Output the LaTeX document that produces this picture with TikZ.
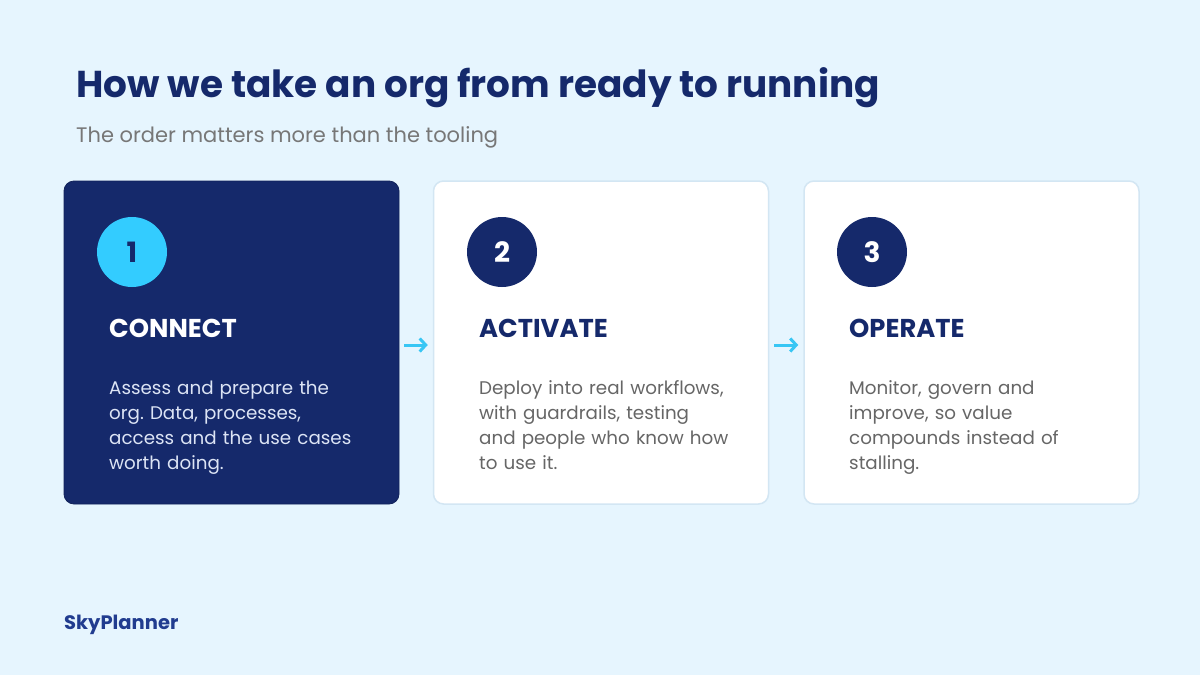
\documentclass[tikz,border=0pt]{standalone}
\usepackage{fontspec}
\setmainfont{Poppins}
\usetikzlibrary{arrows.meta}
\frenchspacing
\definecolor{bg}{HTML}{E6F5FE}
\definecolor{navy}{HTML}{15296B}
\definecolor{cyan}{HTML}{33CCFF}
\definecolor{arrowc}{HTML}{38C6F4}
\definecolor{bord}{HTML}{D3E6F3}
\definecolor{subgray}{HTML}{777777}
\definecolor{bodygray}{HTML}{666666}
\definecolor{bodylight}{HTML}{DCE4F5}
\definecolor{logoc}{HTML}{213C8F}
\tikzset{
  card/.style={rounded corners=10pt, minimum width=335pt, minimum height=323pt, inner sep=0pt},
  darkcard/.style={card, fill=navy, draw=navy!85!black, line width=0.8pt},
  lightcard/.style={card, fill=white, draw=bord, line width=1.5pt},
  numcirc/.style={circle, minimum size=70pt, inner sep=0pt, font=\fontsize{28}{30}\selectfont\bfseries},
  heading/.style={anchor=base west, inner sep=0pt, font=\fontsize{25.8}{30}\selectfont\bfseries},
  body/.style={anchor=base west, inner sep=0pt, align=left, text width=300pt, font=\fontsize{18.3}{25}\selectfont},
  flow/.style={arrowc, line width=3pt, shorten <=5pt, shorten >=5pt, -{Straight Barb[length=6pt,width=13pt,line width=3pt]}}
}
\begin{document}
\begin{tikzpicture}[x=1pt,y=-1pt]
\useasboundingbox (0,0) rectangle (1200,675);
\fill[bg] (0,0) rectangle (1200,675);
\node[anchor=base west, inner sep=0pt, text=navy, font=\fontsize{37.4}{42}\selectfont\bfseries] (title) at (76,97) {How we take an org from ready to running};
\node[anchor=base west, inner sep=0pt, text=subgray, font=\fontsize{21}{25}\selectfont] (sub) at (76,142) {The order matters more than the tooling};
% cards
\node[darkcard] (c1) at (231.5,342.5) {};
\node[lightcard] (c2) at (601,342.5) {};
\node[lightcard] (c3) at (971.5,342.5) {};
% circles
\node[numcirc, fill=cyan, text=navy] (n1) at (132,252) {1};
\node[numcirc, fill=navy, text=white] (n2) at (502,252) {2};
\node[numcirc, fill=navy, text=white] (n3) at (872,252) {3};
% headings
\node[heading, text=white] (h1) at (109,337) {CONNECT};
\node[heading, text=navy] (h2) at (479,337) {ACTIVATE};
\node[heading, text=navy] (h3) at (849,337) {OPERATE};
% bodies
\node[body, text=bodylight] (b1) at (109,394) {Assess and prepare the\\org. Data, processes,\\access and the use cases\\worth doing.};
\node[body, text=bodygray] (b2) at (479,394) {Deploy into real workflows,\\with guardrails, testing\\and people who know how\\to use it.};
\node[body, text=bodygray] (b3) at (849,394) {Monitor, govern and\\improve, so value\\compounds instead of\\stalling.};
% arrows
\draw[flow] ([yshift=-2.5pt]c1.east) -- ([yshift=-2.5pt]c2.west);
\draw[flow] ([yshift=-2.5pt]c2.east) -- ([yshift=-2.5pt]c3.west);
% logo
\node[anchor=base west, inner sep=0pt, text=logoc, font=\fontsize{19.5}{22}\selectfont\bfseries] (logo) at (64,629) {SkyPlanner};
\end{tikzpicture}
\end{document}
